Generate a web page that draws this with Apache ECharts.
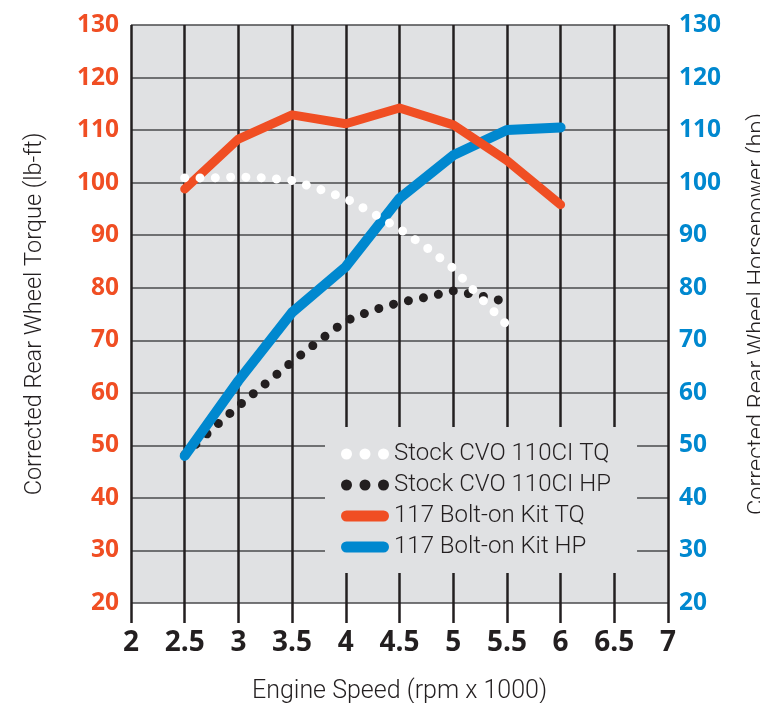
<!DOCTYPE html>
<html>
<head>
<meta charset="utf-8">
<script src="https://cdn.jsdelivr.net/npm/echarts@6/dist/echarts.min.js"></script>
<style>
  html, body { margin: 0; padding: 0; background: #ffffff; }
  #chart { width: 760px; height: 703px; }
</style>
</head>
<body>
<div id="chart"></div>
<script>
// ---- data ----
var rpmStock = [2.5, 2.75, 3.0, 3.25, 3.5, 3.75, 4.0, 4.25, 4.5, 4.75, 5.0, 5.25, 5.5];
var stockTQ  = [100.9, 100.9, 101.1, 100.9, 100.4, 98.8, 97.0, 94.2, 91.2, 87.7, 83.7, 78.2, 72.9];
var stockHP  = [48.2, 53.0, 57.5, 61.7, 65.9, 69.9, 73.7, 75.7, 77.2, 78.2, 79.4, 78.5, 77.3];

var rpmKit   = [2.5, 3.0, 3.5, 4.0, 4.5, 5.0, 5.5, 6.0];
var kitTQ    = [98.8, 108.3, 112.9, 111.2, 114.2, 111.0, 104.2, 95.8];
var kitHP    = [48.0, 62.3, 75.3, 84.0, 97.0, 105.2, 110.0, 110.5];

var seriesNames = ['Stock CVO 110CI TQ', 'Stock CVO 110CI HP', '117 Bolt-on Kit TQ', '117 Bolt-on Kit HP'];
var xTitle = 'Engine Speed (rpm x 1000)';
var yLeftTitle = 'Corrected Rear Wheel Torque (lb-ft)';
var yRightTitle = 'Corrected Rear Wheel Horsepower (hp)';

// ---- styling ----
var ORANGE = '#f04e23';
var BLUE = '#0088cf';
var INK = '#231f20';
var PLOT_BG = '#e0e1e3';
var FONT = 'Roboto';
var NUM_FONT = 'Open Sans';

function pairs(xs, ys) {
  return xs.map(function (x, i) { return [x, ys[i]]; });
}

var dotsIcon = 'path://M0,5.5a5.5,5.5 0 1,0 11,0a5.5,5.5 0 1,0 -11,0Z' +
               'M18.5,5.5a5.5,5.5 0 1,0 11,0a5.5,5.5 0 1,0 -11,0Z' +
               'M37,5.5a5.5,5.5 0 1,0 11,0a5.5,5.5 0 1,0 -11,0Z';
var barIcon = 'path://M5.5,0H42.5A5.5,5.5 0 0 1 42.5,11H5.5A5.5,5.5 0 0 1 5.5,0Z';

var chart = echarts.init(document.getElementById('chart'), null, { renderer: 'canvas' });

var yAxisCommon = {
  type: 'value',
  min: 20,
  max: 130,
  interval: 10,
  axisTick: { show: false },
  axisLine: { show: false },
  nameLocation: 'middle',
  nameRotate: 90,
  nameTextStyle: { fontFamily: FONT, fontSize: 23.5, fontWeight: 300, color: INK }
};

var option = {
  animation: false,
  backgroundColor: '#ffffff',
  grid: {
    left: 131, right: 92, top: 25, bottom: 100,
    outerBoundsMode: 'none',
    containLabel: false,
    show: true, backgroundColor: PLOT_BG, borderWidth: 0
  },
  legend: {
    orient: 'vertical',
    left: 325,
    top: 427,
    padding: [15, 26, 14, 16],
    backgroundColor: PLOT_BG,
    itemWidth: 48,
    itemHeight: 11,
    itemGap: 7,
    selectedMode: false,
    textStyle: { fontFamily: FONT, fontSize: 24, fontWeight: 300, color: INK, lineHeight: 22 },
    itemStyle: { borderWidth: 0 },
    data: [
      { name: seriesNames[0], icon: dotsIcon },
      { name: seriesNames[1], icon: dotsIcon },
      { name: seriesNames[2], icon: barIcon },
      { name: seriesNames[3], icon: barIcon }
    ]
  },
  xAxis: {
    type: 'value',
    min: 2,
    max: 7,
    interval: 0.5,
    name: xTitle,
    nameLocation: 'middle',
    nameGap: 76,
    nameTextStyle: { fontFamily: FONT, fontSize: 25, fontWeight: 300, color: INK },
    axisLine: { show: false },
    axisTick: { show: true, inside: false, length: 20, lineStyle: { color: INK, width: 2.5 } },
    axisLabel: {
      margin: 26,
      fontFamily: NUM_FONT, fontWeight: 700, fontSize: 28, color: INK,
      formatter: function (v) { return String(v); }
    },
    splitLine: { show: true, lineStyle: { color: INK, width: 2.5 } }
  },
  yAxis: [
    Object.assign({}, yAxisCommon, {
      position: 'left',
      name: yLeftTitle,
      nameGap: 84,
      axisLabel: { margin: 12, fontFamily: NUM_FONT, fontWeight: 700, fontSize: 24.5, color: ORANGE },
      splitLine: { show: true, lineStyle: { color: '#4a4a4c', width: 1.5 } }
    }),
    Object.assign({}, yAxisCommon, {
      position: 'right',
      name: yRightTitle,
      nameGap: 78,
      axisLabel: { margin: 11, fontFamily: NUM_FONT, fontWeight: 700, fontSize: 24.5, color: BLUE },
      splitLine: { show: false }
    })
  ],
  series: [
    {
      name: seriesNames[1],
      type: 'line',
      yAxisIndex: 1,
      data: pairs(rpmStock, stockHP),
      showSymbol: false,
      symbol: 'none',
      color: '#231f20',
      lineStyle: { color: '#231f20', width: 9, type: [0.01, 15.3], cap: 'round', join: 'round' }
    },
    {
      name: seriesNames[3],
      type: 'line',
      yAxisIndex: 1,
      data: pairs(rpmKit, kitHP),
      showSymbol: false,
      symbol: 'none',
      color: BLUE,
      lineStyle: { color: BLUE, width: 10, cap: 'round', join: 'round' }
    },
    {
      name: seriesNames[2],
      type: 'line',
      yAxisIndex: 0,
      data: pairs(rpmKit, kitTQ),
      showSymbol: false,
      symbol: 'none',
      color: ORANGE,
      lineStyle: { color: ORANGE, width: 9, cap: 'round', join: 'round' }
    },
    {
      name: seriesNames[0],
      type: 'line',
      yAxisIndex: 0,
      data: pairs(rpmStock, stockTQ),
      showSymbol: false,
      symbol: 'none',
      color: '#ffffff',
      lineStyle: { color: '#ffffff', width: 9, type: [0.01, 15.3], cap: 'round', join: 'round' }
    }
  ]
};

chart.setOption(option);
</script>
</body>
</html>
